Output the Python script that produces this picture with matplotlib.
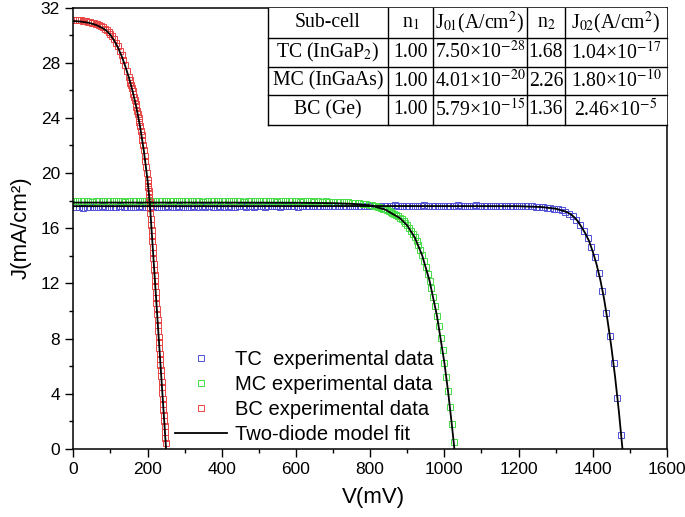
import numpy as np
import matplotlib
matplotlib.use("Agg")
import matplotlib.pyplot as plt
from matplotlib.ticker import MultipleLocator
from matplotlib.lines import Line2D
from matplotlib.patches import Rectangle

plt.rcParams['font.family'] = ['Liberation Sans', 'DejaVu Sans']
plt.rcParams['mathtext.fontset'] = 'stix'

# ---------------- data ----------------
# Top cell (TC) measured data: voltage sweep 6..1476 mV in 10 mV steps
tc_sweep = (6, 1476, 10)
tc_J = [17.52, 17.55, 17.50, 17.57, 17.53, 17.56, 17.51, 17.58, 17.54, 17.52,
        17.56, 17.53, 17.59, 17.55, 17.52, 17.57, 17.54, 17.58, 17.53, 17.56,
        17.55, 17.58, 17.54, 17.57, 17.53, 17.59, 17.56, 17.54, 17.58, 17.55,
        17.57, 17.54, 17.59, 17.56, 17.58, 17.55, 17.60, 17.57, 17.54, 17.58,
        17.56, 17.59, 17.57, 17.55, 17.60, 17.58, 17.56, 17.59, 17.57, 17.61,
        17.58, 17.56, 17.60, 17.58, 17.61, 17.57, 17.59, 17.62, 17.58, 17.60,
        17.57, 17.61, 17.59, 17.62, 17.58, 17.60, 17.63, 17.59, 17.61, 17.58,
        17.62, 17.60, 17.58, 17.61, 17.63, 17.59, 17.62, 17.60, 17.64, 17.61,
        17.59, 17.63, 17.61, 17.64, 17.60, 17.62, 17.65, 17.61, 17.63, 17.60,
        17.64, 17.62, 17.60, 17.63, 17.65, 17.61, 17.64, 17.62, 17.60, 17.63,
        17.61, 17.64, 17.62, 17.65, 17.63, 17.60, 17.64, 17.62, 17.65, 17.61,
        17.63, 17.60, 17.64, 17.62, 17.59, 17.63, 17.61, 17.64, 17.60, 17.62,
        17.60, 17.62, 17.58, 17.59, 17.56, 17.55,
        17.52, 17.49, 17.46, 17.42, 17.37, 17.30, 17.20, 17.06, 16.86, 16.58,
        16.22, 15.80, 15.28, 14.66, 13.88, 12.78, 11.42, 9.86, 8.18, 6.20,
        3.72, 1.02]

# Middle cell (MC): 0..790 mV in 10 mV steps, then 800..1025 mV in 5 mV steps
mc_sweep1 = (0, 790, 10)
mc_sweep2 = (800, 1025, 5)
mc_J = [17.97, 17.94, 17.99, 17.95, 17.98, 17.93, 17.96, 18.00, 17.95, 17.97,
        17.94, 17.98, 17.96, 17.99, 17.93, 17.97, 17.95, 17.99, 17.96, 17.94,
        17.98, 17.95, 17.97, 18.00, 17.94, 17.96, 17.98, 17.95, 17.99, 17.96,
        17.94, 17.97, 17.95, 17.98, 17.96, 17.93, 17.97, 17.99, 17.95, 17.96,
        17.98, 17.94, 17.96, 17.99, 17.95, 17.97, 17.93, 17.96, 17.98, 17.95,
        17.97, 17.94, 17.96, 17.98, 17.95, 17.93, 17.97, 17.95, 17.96, 17.94,
        17.96, 17.93, 17.95, 17.97, 17.94, 17.92, 17.95, 17.93, 17.94, 17.91,
        17.93, 17.90, 17.91, 17.88, 17.89, 17.86, 17.84, 17.82, 17.79, 17.75,
        17.70, 17.67, 17.63, 17.60, 17.56, 17.52, 17.47, 17.42, 17.37, 17.31,
        17.25, 17.18, 17.11, 17.03, 16.95, 16.86, 16.76, 16.64, 16.51, 16.36,
        16.20, 16.02, 15.82, 15.60, 15.35, 15.07, 14.76, 14.42, 14.05, 13.64,
        13.20, 12.72, 12.20, 11.64, 11.03, 10.37, 9.66, 8.90, 8.08, 7.20,
        6.26, 5.25, 4.17, 3.02, 1.80, 0.50]

# Bottom cell (BC): 0..150 mV (5 mV), 152..198 mV (2 mV), 200..249 mV (1 mV)
bc_sweep1 = (0, 150, 5)
bc_sweep2 = (152, 198, 2)
bc_sweep3 = (200, 249, 1)
bc_J = [31.12, 31.11, 31.10, 31.08, 31.06, 31.04, 31.02, 31.00, 30.97, 30.94,
        30.90, 30.86, 30.82, 30.77, 30.71, 30.64, 30.56, 30.47, 30.36, 30.23,
        30.08, 29.90, 29.69, 29.45, 29.18, 28.88, 28.55, 28.19, 27.80, 27.38,
        26.93,
        26.74, 26.55, 26.35, 26.15, 25.94, 25.72, 25.50, 25.27, 25.03, 24.78,
        24.52, 24.25, 23.97, 23.68, 23.38, 23.06, 22.73, 22.39, 22.03, 21.66,
        21.27, 20.86, 20.43, 19.98,
        19.52, 19.26, 19.00, 18.72, 18.45, 18.17, 17.90, 17.50, 17.07, 16.68,
        16.25, 15.86, 15.45, 15.05, 14.63, 14.24, 13.82, 13.43, 13.01, 12.61,
        12.21, 11.79, 11.40, 10.98, 10.58, 10.17, 9.77, 9.35, 8.96, 8.54,
        8.14, 7.73, 7.33, 6.91, 6.52, 6.10, 5.70, 5.29, 4.89, 4.47,
        4.08, 3.66, 3.26, 2.85, 2.45, 2.03, 1.64, 1.22, 0.83, 0.41]

# Two-diode model fit curves
tc_fit_V = [0, 400, 800, 1200, 1260, 1300, 1330, 1340, 1350, 1360, 1370, 1380,
            1390, 1400, 1410, 1420, 1430, 1440, 1450, 1460, 1470, 1480]
tc_fit_J = [17.60, 17.60, 17.61, 17.60, 17.54, 17.42, 17.18, 17.02, 16.80, 16.50,
            16.07, 15.62, 15.07, 14.30, 13.40, 12.30, 10.95, 9.28, 7.40, 5.25,
            2.80, 0.00]
mc_fit_V = [0, 200, 400, 600, 700, 750, 800, 840, 880, 900, 920, 940, 960, 980,
            1000, 1010, 1020, 1027]
mc_fit_J = [17.86, 17.86, 17.86, 17.85, 17.82, 17.77, 17.66, 17.36, 16.74, 16.20,
            15.35, 14.05, 12.20, 9.66, 6.26, 4.17, 1.80, 0.00]
bc_fit_V = [0, 20, 40, 60, 80, 90, 100, 110, 120, 130, 140, 150, 160, 170, 180,
            190, 200, 206, 250]
bc_fit_J = [31.02, 30.98, 30.90, 30.75, 30.50, 30.30, 30.02, 29.62, 29.12, 28.50,
            27.75, 26.90, 25.92, 24.76, 23.36, 21.64, 19.50, 17.90, 0.00]

legend_labels = ["TC  experimental data", "MC experimental data",
                 "BC experimental data", "Two-diode model fit"]
colors = {"TC": "#5050d8", "MC": "#44dc44", "BC": "#e84444"}

table_header = ["Sub-cell", "n$_1$", "J$_{01}$(A/cm$^2$)", "n$_2$", "J$_{02}$(A/cm$^2$)"]
table_rows = [
    ["TC (InGaP$_2$)", "1.00", "7.50×10$^{-28}$", "1.68", "1.04×10$^{-17}$"],
    ["MC (InGaAs)", "1.00", "4.01×10$^{-20}$", "2.26", "1.80×10$^{-10}$"],
    ["BC (Ge)", "1.00", "5.79×10$^{-15}$", "1.36", "2.46×10$^{-5}$"],
]

x_ticks = [0, 200, 400, 600, 800, 1000, 1200, 1400, 1600]
y_ticks = [0, 4, 8, 12, 16, 20, 24, 28, 32]


def sweep(start, stop, step):
    return np.arange(start, stop + step / 2, step)


tc_V = sweep(*tc_sweep)
mc_V = np.concatenate([sweep(*mc_sweep1), sweep(*mc_sweep2)])
bc_V = np.concatenate([sweep(*bc_sweep1), sweep(*bc_sweep2), sweep(*bc_sweep3)])
assert len(tc_V) == len(tc_J) and len(mc_V) == len(mc_J) and len(bc_V) == len(bc_J)

# ---------------- figure ----------------
W, H = 685, 517
fig = plt.figure(figsize=(W / 100, H / 100), dpi=100)
ax_l, ax_r, ax_t, ax_b = 73.3, 667.0, 7.5, 449.0
ax = fig.add_axes([ax_l / W, 1 - ax_b / H, (ax_r - ax_l) / W, (ax_b - ax_t) / H])

mk = dict(ls='none', marker='s', ms=4.8, mfc='none', mew=0.7)
h_tc, = ax.plot(tc_V, tc_J, mec=colors["TC"], **mk)
h_mc, = ax.plot(mc_V, mc_J, mec=colors["MC"], **mk)
h_bc, = ax.plot(bc_V, bc_J, mec=colors["BC"], **mk)
fit_kw = dict(color='black', lw=1.3, zorder=5)
h_fit, = ax.plot(tc_fit_V, tc_fit_J, **fit_kw)
ax.plot(mc_fit_V, mc_fit_J, **fit_kw)
ax.plot(bc_fit_V, bc_fit_J, **fit_kw)

ax.set_xlim(0, 1600)
ax.set_ylim(0, 32)
ax.set_xticks(x_ticks)
ax.set_yticks(y_ticks)
ax.xaxis.set_minor_locator(MultipleLocator(100))
ax.yaxis.set_minor_locator(MultipleLocator(2))
ax.tick_params(which='major', direction='out', length=5.5, width=1.0,
               labelsize=12.5, pad=4, top=False, right=False)
ax.tick_params(which='minor', direction='out', length=3.2, width=1.0,
               top=False, right=False)
for s in ax.spines.values():
    s.set_linewidth(1.1)

fig.text(373 / W, 1 - 497 / H, "V(mV)", ha='center', va='center', fontsize=16)
fig.text(21 / W, 1 - 228 / H, "J(mA/cm²)", ha='center', va='center',
         fontsize=16, rotation=90)

leg = ax.legend([h_tc, h_mc, h_bc, h_fit], legend_labels,
                loc='lower left', bbox_to_anchor=(0.171, 0.012),
                frameon=False, fontsize=14.5, handlelength=2.6,
                handletextpad=0.4, labelspacing=0.3, borderpad=0,
                borderaxespad=0, markerscale=0.9)

# ---------------- table ----------------
col_x = [268, 388, 433, 527, 565, 667]
row_y = [7.5, 38, 67, 95, 125]


def fx(x):
    return x / W


def fy(y):
    return 1 - y / H


fig.add_artist(Rectangle((fx(col_x[0]), fy(row_y[-1])),
                         fx(col_x[-1]) - fx(col_x[0]), fy(row_y[0]) - fy(row_y[-1]),
                         transform=fig.transFigure, facecolor='white',
                         edgecolor='none', zorder=6))
for y in row_y[1:]:
    fig.add_artist(Line2D([fx(col_x[0]), fx(col_x[-1])], [fy(y), fy(y)],
                          transform=fig.transFigure, color='black', lw=1.0, zorder=7))
for x in col_x[:-1]:
    fig.add_artist(Line2D([fx(x), fx(x)], [fy(row_y[0]), fy(row_y[-1])],
                          transform=fig.transFigure, color='black', lw=1.0, zorder=7))

all_rows = [table_header] + table_rows
for r, row in enumerate(all_rows):
    yc = (row_y[r] + row_y[r + 1]) / 2
    for c, txt in enumerate(row):
        xc = (col_x[c] + col_x[c + 1]) / 2
        fig.text(fx(xc), fy(yc), txt, ha='center', va='center', fontsize=14.2,
                 family=['Liberation Serif', 'DejaVu Serif'], zorder=8)

fig.savefig("out.png", dpi=100)
